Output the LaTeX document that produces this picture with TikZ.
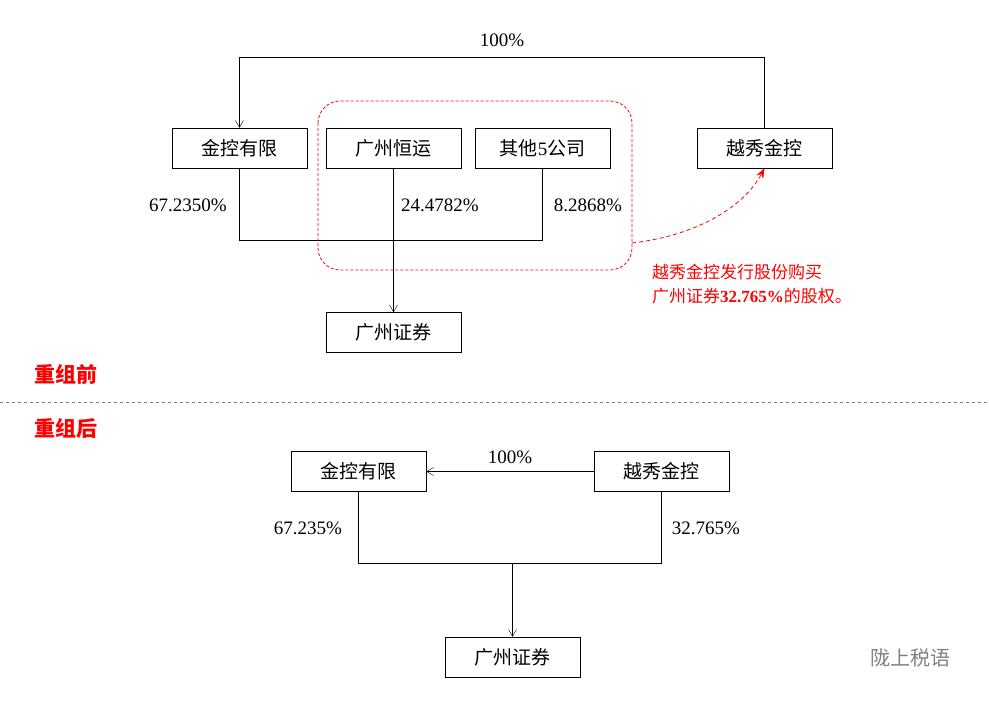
\documentclass[tikz,border=0pt]{standalone}
\usepackage{fontspec}
\setmainfont{Liberation Serif}
\newfontfamily\cjk{Noto Sans CJK SC}
\usetikzlibrary{arrows.meta}
\tikzset{
	box/.style={draw, minimum width=135pt, minimum height=40pt, inner sep=0pt, font=\fontsize{19}{22}\selectfont},
	pct/.style={font=\fontsize{19}{22}\selectfont},
	link/.style={draw, -{Straight Barb[length=7pt,width=8pt]}},
}
\begin{document}
\begin{tikzpicture}[x=1pt,y=-1pt]
	\useasboundingbox (0,0) rectangle (989,701);
	% before
	\node[box] (jk1) at (239.5,148) {\cjk 金控有限};
	\node[box] (hy) at (393.5,148) {\cjk 广州恒运};
	\node[box] (qt) at (542.5,148) {{\cjk 其他}5{\cjk 公司}};
	\node[box] (yx1) at (764.5,148) {\cjk 越秀金控};
	\node[box] (zq1) at (393.5,332.5) {\cjk 广州证券};
	\coordinate (t1) at (764.5,57);
	\coordinate (t2) at (239.5,57);
	\draw[link] (yx1.north) -- (t1) -- (t2) -- (jk1.north);
	\node[pct] at (502,40) {100\%};
	\coordinate (m1) at (239.5,240);
	\coordinate (m2) at (542.5,240);
	\draw (jk1.south) -- (m1) -- (m2) -- (qt.south);
	\draw[link] (hy.south) -- (zq1.north);
	\node[pct] at (188,205) {67.2350\%};
	\node[pct] at (440,205) {24.4782\%};
	\node[pct] at (588,205) {8.2868\%};
	\draw[red, line width=0.8pt, dash pattern=on 3pt off 2pt, rounded corners=22pt] (318,101) rectangle (632,270);
	\coordinate (c1) at (632,243);
	\draw[red, thick, dash pattern=on 4pt off 3pt, -{Stealth[length=10pt]}] (c1) .. controls (700,235) and (745,205) .. (yx1.south);
	\node[red, anchor=north west, align=left, inner sep=0pt, font=\fontsize{17}{24}\selectfont] (note) at (652,264)
		{\cjk 越秀金控发行股份购买\\{\cjk 广州证券}\textbf{32.765\%}{\cjk 的股权。}};
	\node[red, font=\cjk\bfseries\fontsize{21}{24}\selectfont] (before) at (66,374) {重组前};
	\draw[gray, dashed] (0,402) -- (989,402);
	\node[red, font=\cjk\bfseries\fontsize{21}{24}\selectfont] (after) at (66,428) {重组后};
	% after
	\node[box] (jk2) at (358.5,471.5) {\cjk 金控有限};
	\node[box] (yx2) at (661.5,471.5) {\cjk 越秀金控};
	\node[box] (zq2) at (512.5,657) {\cjk 广州证券};
	\draw[link] (yx2.west) -- (jk2.east);
	\node[pct] at (510,457) {100\%};
	\coordinate (b1) at (358.5,563);
	\coordinate (b2) at (661.5,563);
	\coordinate (b3) at (512.5,563);
	\draw (jk2.south) -- (b1) -- (b2) -- (yx2.south);
	\draw[link] (b3) -- (zq2.north);
	\node[pct] at (308,528) {67.235\%};
	\node[pct] at (706,528) {32.765\%};
	\node[gray, font=\cjk\fontsize{20}{24}\selectfont] (wm) at (910,658) {陇上税语};
\end{tikzpicture}
\end{document}
